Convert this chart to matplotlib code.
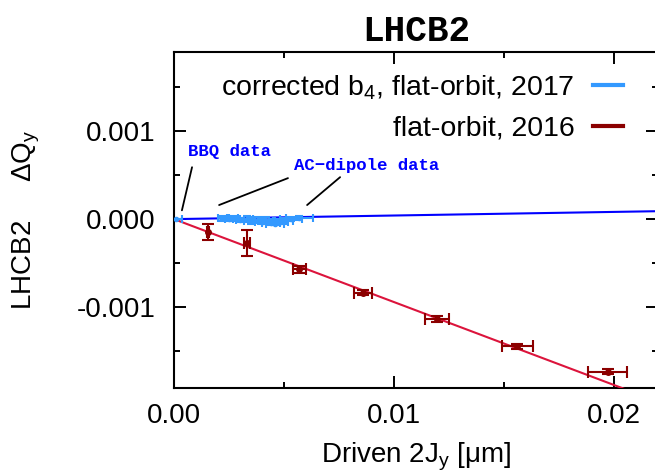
import matplotlib
matplotlib.use("Agg")
import matplotlib.pyplot as plt
from matplotlib.lines import Line2D

plt.rcParams['font.family'] = ['Liberation Sans', 'DejaVu Sans']
plt.rcParams['mathtext.fontset'] = 'custom'
plt.rcParams['mathtext.rm'] = 'Liberation Sans'
plt.rcParams['mathtext.it'] = 'Liberation Sans'

# ── DATA ──────────────────────────────────────────
# flat-orbit, 2016 (AC-dipole)
red_x    = [0.00155, 0.00332, 0.0057, 0.00858, 0.01197, 0.0156, 0.01971]
red_y    = [-0.000148, -0.000273, -0.000572, -0.000837, -0.001136, -0.001447, -0.001735]
red_xerr = [0.00005, 0.00012, 0.0003, 0.0004, 0.00055, 0.0007, 0.0009]
red_yerr = [0.00009, 0.00015, 0.00004, 0.00003, 0.00003, 0.00003, 0.00003]

# corrected b4, flat-orbit, 2017 : BBQ point + AC-dipole cluster
bbq_x, bbq_y, bbq_xerr = [0.0001], [0.0], [0.00025]
ac_x    = [0.0022, 0.0025, 0.0027, 0.0030, 0.0033, 0.0035, 0.0038, 0.0040,
           0.0042, 0.0044, 0.0046, 0.0048, 0.0050, 0.0053, 0.0057]
ac_y    = [0.00001, 0.0, 0.00001, -0.00001, 0.0, -0.00002, -0.00001, -0.00003,
           -0.00002, -0.00004, -0.00005, -0.00003, -0.00002, 0.0, 0.00001]
ac_xerr = [0.0002, 0.0002, 0.0002, 0.0002, 0.0003, 0.0003, 0.0003, 0.0003,
           0.0003, 0.0004, 0.0004, 0.0004, 0.0004, 0.0005, 0.0006]
ac_yerr = [0.00003, 0.00002, 0.00003, 0.00002, 0.00003, 0.00004, 0.00003, 0.00003,
           0.00004, 0.00003, 0.00002, 0.00003, 0.00003, 0.00002, 0.00002]

# linear fits (detuning slopes)
fit_x      = [0.0, 0.022]
slope_blue = 0.0041
slope_red  = -0.0943

blue_pts = '#3399ff'
red_pts  = '#8b0000'

# ── PLOT ──────────────────────────────────────────
fig = plt.figure(figsize=(6.55, 4.76), dpi=100)
ax = fig.add_axes([174/655, 1 - 388/476, 484/655, 336/476])

ax.plot(fit_x, [slope_blue * v for v in fit_x], color='#0000ff', lw=1.5, zorder=3)
ax.plot(fit_x, [slope_red * v for v in fit_x], color='#dc143c', lw=1.5, zorder=3)

ax.errorbar(bbq_x, bbq_y, xerr=bbq_xerr, fmt='o', ms=3, color=blue_pts,
            ecolor=blue_pts, elinewidth=1.5, capsize=3, capthick=1.5, zorder=4)
ax.errorbar(ac_x, ac_y, xerr=ac_xerr, yerr=ac_yerr, fmt='o', ms=3, color=blue_pts,
            ecolor=blue_pts, elinewidth=1.5, capsize=3, capthick=1.5, zorder=4)
ax.errorbar(red_x, red_y, xerr=red_xerr, yerr=red_yerr, fmt='o', ms=4, color=red_pts,
            ecolor=red_pts, elinewidth=1.5, capsize=4, capthick=1.5, zorder=5)

ax.set_xlim(0, 0.022)
ax.set_ylim(-0.00192, 0.0019)
ax.set_xticks([0.0, 0.01, 0.02])
ax.set_xticklabels(['0.00', '0.01', '0.02'])
ax.set_xticks([0.005, 0.015], minor=True)
ax.set_yticks([-0.001, 0.0, 0.001])
ax.set_yticklabels(['-0.001', '0.000', '0.001'])
ax.set_yticks([-0.0015, -0.0005, 0.0005, 0.0015], minor=True)
ax.tick_params(which='both', direction='in', top=True, right=True, width=1.4,
               labelsize=20)
ax.tick_params(which='major', length=8.5)
ax.tick_params(which='minor', length=4.3)
ax.tick_params(axis='y', pad=13)
ax.tick_params(axis='x', pad=11)
for s in ax.spines.values():
    s.set_linewidth(1.5)

ax.set_xlabel('Driven 2J$_y$ [\u03bcm]', fontsize=20, labelpad=8)
ax.set_ylabel('LHCB2     \u0394Q$_y$', fontsize=20, labelpad=25)
ax.set_title('LHCB2', fontsize=26, fontweight='bold', family='Liberation Mono', pad=8)

# annotations
ann_kw = dict(fontsize=12.5, fontweight='bold', family='Liberation Mono', color='#0000ff')
line_kw = dict(arrowstyle='-', color='black', lw=1.3, shrinkA=0, shrinkB=0)
ax.text(0.00064, 0.00068, 'BBQ data', ha='left', va='bottom', **ann_kw)
ax.text(0.00877, 0.00053, 'AC\u2212dipole data', ha='center', va='bottom', **ann_kw)
ax.annotate('', xy=(0.00036, 0.0001), xytext=(0.00082, 0.00059), arrowprops=line_kw)
ax.annotate('', xy=(0.00205, 0.00016), xytext=(0.00518, 0.000466), arrowprops=line_kw)
ax.annotate('', xy=(0.00605, 0.00016), xytext=(0.00755, 0.000477), arrowprops=line_kw)

handles = [Line2D([], [], color=blue_pts, lw=3),
           Line2D([], [], color=red_pts, lw=3)]
labels = ['corrected b$_4$, flat-orbit, 2017', 'flat-orbit, 2016']
ax.legend(handles, labels, loc='upper right', bbox_to_anchor=(623/655, 1 - 73/476),
          bbox_transform=fig.transFigure, frameon=False, markerfirst=False,
          fontsize=20.5, handlelength=1.05, handletextpad=0.65, labelspacing=0.5,
          borderpad=0, borderaxespad=0)

fig.savefig('out.png', dpi=100)
